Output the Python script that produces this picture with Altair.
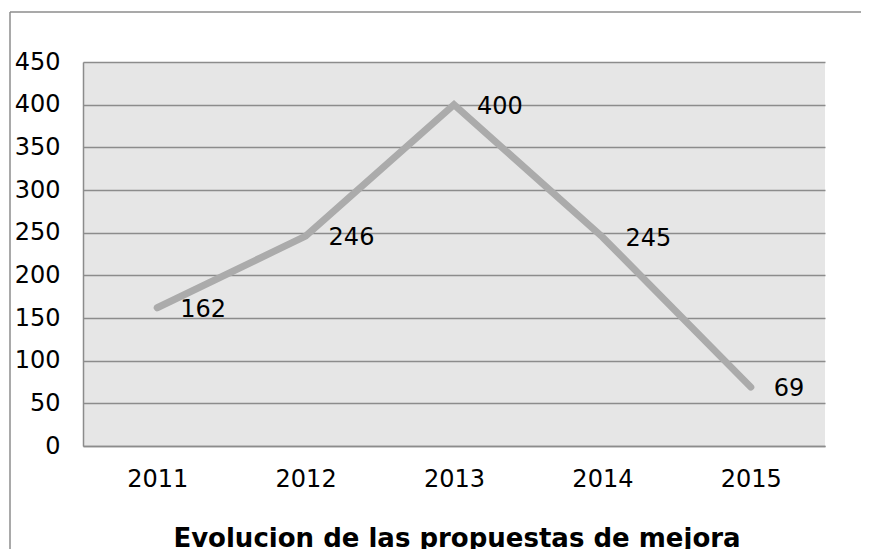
import altair as alt
import pandas as pd

years = ["2011", "2012", "2013", "2014", "2015"]
values = [162, 246, 400, 245, 69]
y_ticks = [0, 50, 100, 150, 200, 250, 300, 350, 400, 450]
title_text = "Evolucion de las propuestas de mejora"

df = pd.DataFrame({"year": years, "value": values})
frame_df = pd.DataFrame({"k": [0]})
title_df = pd.DataFrame({"t": [title_text]})

FONT = "DejaVu Sans"
GRID = "#8c8c8c"
FS = 24

x = alt.X("year:N", sort=years, title=None,
          scale=alt.Scale(paddingInner=0, paddingOuter=0),
          axis=alt.Axis(labelAngle=0, labelFontSize=FS, labelFont=FONT,
                        labelColor="#000000", labelPadding=33,
                        labelBaseline="middle", ticks=False,
                        domainColor=GRID, domainWidth=1.5, grid=False))
y = alt.Y("value:Q", title=None,
          scale=alt.Scale(domain=[0, 450], nice=False),
          axis=alt.Axis(values=y_ticks, labelFontSize=FS, labelFont=FONT,
                        labelColor="#000000", labelPadding=23, ticks=False,
                        domainColor=GRID, domainWidth=1.5,
                        grid=True, gridColor=GRID, gridWidth=1.5,
                        gridOpacity=1))

base = alt.Chart(df)

line = base.mark_line(color="#ababab", strokeWidth=7, strokeCap="round",
                      strokeJoin="miter").encode(x=x, y=y)

labels = base.mark_text(align="left", baseline="middle", dx=23, dy=2,
                        fontSize=FS, font=FONT, color="#000000").encode(
    x=alt.X("year:N", sort=years), y=alt.Y("value:Q"), text="value:Q")

left_border = alt.Chart(frame_df).mark_rule(color=GRID, strokeWidth=1.5).encode(
    x=alt.value(-73), y=alt.value(-50), y2=alt.value(500))
top_border = alt.Chart(frame_df).mark_rule(color=GRID, strokeWidth=1.5).encode(
    x=alt.value(-73), x2=alt.value(800), y=alt.value(-50))

title_mark = alt.Chart(title_df).mark_text(
    align="center", baseline="alphabetic", fontSize=26, fontWeight="bold",
    font=FONT, color="#000000").encode(
    x=alt.value(374), y=alt.value(485), text="t:N")

chart = alt.layer(line, labels, left_border, top_border, title_mark).properties(
    width=742, height=384,
    autosize=alt.AutoSizeParams(type="none"),
    padding={"left": 75, "top": 54, "right": 36, "bottom": 103},
).configure_view(fill="#e6e6e6", stroke=None)

chart.save("out.html", embed_options={"renderer": "svg", "actions": False})
